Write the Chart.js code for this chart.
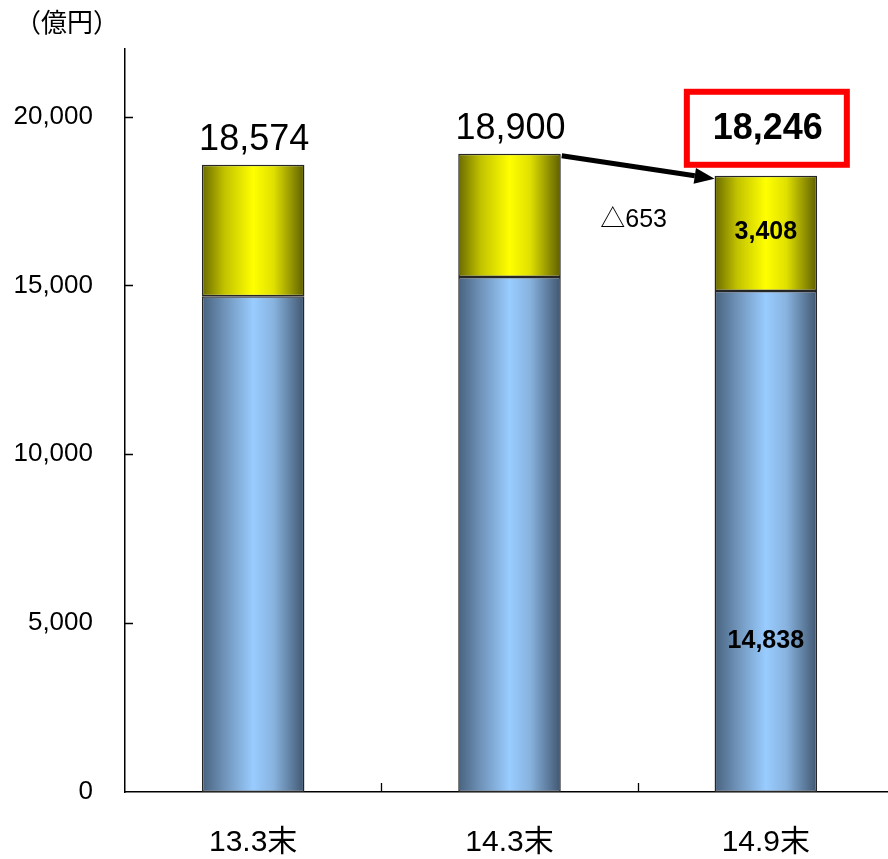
<!DOCTYPE html>
<html lang="ja">
<head>
<meta charset="utf-8">
<title>残高推移</title>
<script src="https://cdn.jsdelivr.net/npm/chart.js@4.4.1/dist/chart.umd.min.js"></script>
<style>
  html, body { margin: 0; padding: 0; background: #ffffff; overflow: hidden; }
  #wrap { width: 888px; height: 859px; overflow: hidden; }
  canvas { display: block; }
</style>
</head>
<body>
<div id="wrap"><canvas id="c" width="894" height="859"></canvas></div>
<script>
// 期末ごとの残高（億円）
const categories = ['13.3末', '14.3末', '14.9末'];
const lowerValues = [14680, 15250, 14838];
const upperValues = [3894, 3650, 3408];
const yTicks = [0, 5000, 10000, 15000, 20000];
const unitLabel = '（億円）';
const changeLabel = '△653';

const totals = categories.map((_, i) => lowerValues[i] + upperValues[i]);
const fmt = v => v.toLocaleString('en-US');
const FONT = "Arial, 'Liberation Sans', 'Noto Sans CJK JP', sans-serif";
const BAR_FRACTION = 0.8 * 0.5;

// 棒の左右方向に陰影をつけるグラデーション
function barGradient(ctx, stops) {
  const chart = ctx.chart;
  if (!chart.chartArea) return stops[2][1];
  const xs = chart.scales.x;
  const cx = xs.getPixelForValue(ctx.dataIndex);
  const half = xs.width / categories.length * BAR_FRACTION / 2;
  const g = chart.ctx.createLinearGradient(cx - half, 0, cx + half, 0);
  stops.forEach(([p, c]) => g.addColorStop(p, c));
  return g;
}
const blueStops = [[0, '#48627f'], [0.22, '#6f93b9'], [0.5, '#99ccff'], [0.7, '#88b3df'], [1, '#405670']];
const yellowStops = [[0, '#6a6a00'], [0.22, '#c2c200'], [0.5, '#ffff00'], [0.7, '#e0e000'], [1, '#5e5e00']];

// 軸の内向き目盛り線
const innerTicks = {
  id: 'innerTicks',
  afterDraw(chart) {
    const c = chart.ctx;
    const xs = chart.scales.x, ys = chart.scales.y;
    const area = chart.chartArea;
    c.save();
    c.strokeStyle = '#000';
    c.lineWidth = 1.3;
    c.beginPath();
    ys.ticks.forEach(t => {
      if (t.value === 0) return;
      const y = Math.round(ys.getPixelForValue(t.value)) + 0.5;
      c.moveTo(area.left, y);
      c.lineTo(area.left + 8, y);
    });
    for (let i = 0; i < categories.length - 1; i++) {
      const x = Math.round((xs.getPixelForValue(i) + xs.getPixelForValue(i + 1)) / 2) + 0.5;
      c.moveTo(x, area.bottom);
      c.lineTo(x, area.bottom - 9);
    }
    c.stroke();
    c.restore();
  }
};

// 数値ラベル・増減矢印・単位表示
const annotations = {
  id: 'annotations',
  afterDatasetsDraw(chart) {
    const c = chart.ctx;
    const lower = chart.getDatasetMeta(0).data;
    const upper = chart.getDatasetMeta(1).data;
    const last = categories.length - 1;
    c.save();
    c.fillStyle = '#000';
    c.textAlign = 'center';
    c.textBaseline = 'middle';

    // 合計値
    totals.forEach((t, i) => {
      const bar = upper[i];
      if (i === last) {
        c.font = 'bold 36px ' + FONT;
        const ty = bar.y - 47;
        c.fillText(fmt(t), bar.x + 2, ty);
        c.strokeStyle = '#ff0000';
        c.lineWidth = 6;
        c.strokeRect(bar.x - 79, ty - 37, 160, 73);
      } else {
        c.font = '36px ' + FONT;
        c.fillText(fmt(t), bar.x + 1, bar.y - 25);
      }
    });

    // 直近期の内訳
    c.font = 'bold 25px ' + FONT;
    const ub = upper[last], lb = lower[last];
    c.fillText(fmt(upperValues[last]), ub.x, ub.y + 56);
    c.fillText(fmt(lowerValues[last]), lb.x, lb.y + 350);

    // 前期末からの増減
    const from = upper[last - 1], to = upper[last];
    const x1 = from.x + from.width / 2 + 1, y1 = from.y + 2;
    const x2 = to.x - to.width / 2, y2 = to.y + 3;
    const ang = Math.atan2(y2 - y1, x2 - x1);
    const headLen = 20, headW = 8;
    const bx = x2 - headLen * Math.cos(ang), by = y2 - headLen * Math.sin(ang);
    c.strokeStyle = '#000';
    c.lineWidth = 5;
    c.beginPath();
    c.moveTo(x1, y1);
    c.lineTo(bx, by);
    c.stroke();
    c.beginPath();
    c.moveTo(x2, y2);
    c.lineTo(bx + headW * Math.sin(ang), by - headW * Math.cos(ang));
    c.lineTo(bx - headW * Math.sin(ang), by + headW * Math.cos(ang));
    c.closePath();
    c.fill();

    c.font = '25px ' + FONT;
    const xs = chart.scales.x;
    const mid = (xs.getPixelForValue(last - 1) + xs.getPixelForValue(last)) / 2;
    c.fillText(changeLabel, mid - 4, to.y + 44);

    // 単位
    c.font = '26px ' + FONT;
    c.fillText(unitLabel, 67, 25);
    c.restore();
  }
};

new Chart(document.getElementById('c'), {
  type: 'bar',
  data: {
    labels: categories,
    datasets: [
      {
        data: lowerValues,
        backgroundColor: ctx => barGradient(ctx, blueStops),
        borderColor: '#262626',
        borderWidth: 1.5,
        borderSkipped: false
      },
      {
        data: upperValues,
        backgroundColor: ctx => barGradient(ctx, yellowStops),
        borderColor: '#262626',
        borderWidth: 1.5,
        borderSkipped: false
      }
    ]
  },
  options: {
    responsive: false,
    animation: false,
    events: [],
    categoryPercentage: 0.8,
    barPercentage: 0.5,
    layout: { padding: { top: 49, left: 0, right: 0, bottom: 0 } },
    plugins: { legend: { display: false }, tooltip: { enabled: false }, title: { display: false } },
    scales: {
      x: {
        stacked: true,
        afterFit: s => { s.height = 67; },
        border: { display: true, color: '#000', width: 1.5 },
        grid: { display: false, drawTicks: false },
        ticks: { color: '#000', padding: 33, font: { family: FONT, size: 30, lineHeight: 1.2 } }
      },
      y: {
        stacked: true,
        min: 0,
        max: 22000,
        afterFit: s => { s.width = 125; },
        afterBuildTicks: s => { s.ticks = yTicks.map(v => ({ value: v })); },
        border: { display: true, color: '#000', width: 1.5 },
        grid: { display: false, drawTicks: false },
        ticks: {
          color: '#000',
          padding: 32,
          includeBounds: false,
          font: { family: FONT, size: 26, lineHeight: 1.2 },
          callback: v => fmt(v)
        }
      }
    }
  },
  plugins: [annotations, innerTicks]
});
</script>
</body>
</html>
